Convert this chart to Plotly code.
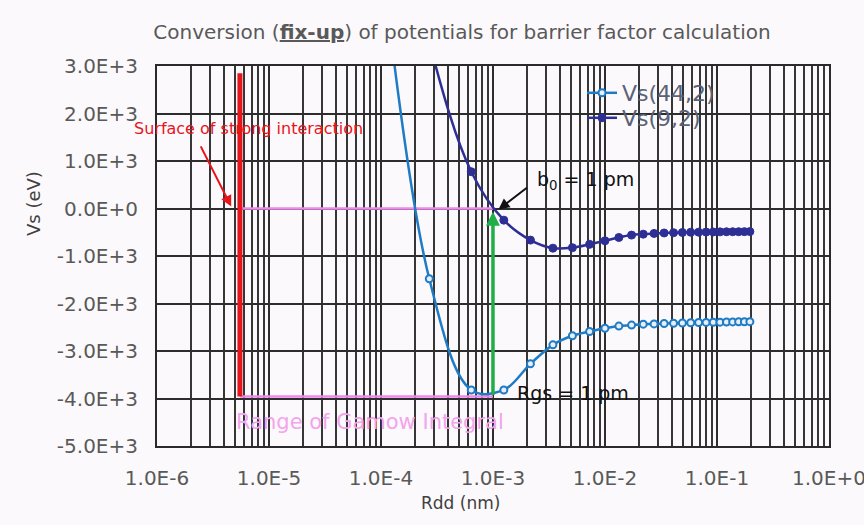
import math
import plotly.graph_objects as go

# ---------------- data ----------------
RDD_NM = [8.0e-5, 2.7e-4, 6.4e-4, 1.25e-3, 2.16e-3, 3.43e-3, 5.12e-3, 7.29e-3,
          1.0e-2, 1.331e-2, 1.728e-2, 2.197e-2, 2.744e-2, 3.375e-2, 4.096e-2,
          4.913e-2, 5.832e-2, 6.859e-2, 8.0e-2, 9.261e-2, 1.0648e-1, 1.2167e-1,
          1.3824e-1, 1.5625e-1, 1.7576e-1, 1.9683e-1]
VS_44_2 = [7500, -1480, -3820, -3820, -3270, -2870, -2680, -2590, -2520, -2475,
           -2455, -2435, -2430, -2420, -2415, -2410, -2405, -2400, -2398, -2395,
           -2393, -2390, -2388, -2386, -2384, -2382]
VS_9_2 = [9500, 3500, 775, -245, -665, -835, -825, -755, -680, -610, -560, -540,
          -525, -515, -510, -505, -500, -498, -496, -494, -492, -490, -489, -488,
          -487, -486]
SERIES_NAMES = ["Vs(44,2)", "Vs(9,2)"]

X_TICKS = [1e-6, 1e-5, 1e-4, 1e-3, 1e-2, 1e-1, 1e0]
X_TICK_LABELS = ["1.0E-6", "1.0E-5", "1.0E-4", "1.0E-3", "1.0E-2", "1.0E-1", "1.0E+0"]
Y_TICKS = [-5000, -4000, -3000, -2000, -1000, 0, 1000, 2000, 3000]
Y_TICK_LABELS = ["-5.0E+3", "-4.0E+3", "-3.0E+3", "-2.0E+3", "-1.0E+3",
                 "0.0E+0", "1.0E+3", "2.0E+3", "3.0E+3"]

# reference markers of the explanation
SURFACE_R = 5.5e-6          # surface of strong interaction (nm)
SURFACE_TOP = 2850
B0_R = 1.0e-3               # b0 = Rgs = 1 pm
V_ZERO = 0
V_MIN = -3960
B0_ARROW_TOP = -70

FONT = "DejaVu Sans"
C44 = "#1e7bc4"
C92 = "#2e2f94"
PINK = "#ee88ea"
GRID = "#2d2d2d"

L, R, T, B = 157, 35, 66, 79
PW, PH = 864 - L - R, 525 - T - B


def px_to_paper(px, py):
    return (px - L) / PW, 1 - (py - T) / PH


fig = go.Figure()

# pink range lines (Gamow integral)
fig.add_trace(go.Scatter(x=[SURFACE_R, B0_R], y=[V_ZERO, V_ZERO], mode="lines",
                         line=dict(color=PINK, width=2.5), showlegend=False, hoverinfo="skip"))
fig.add_trace(go.Scatter(x=[SURFACE_R, B0_R], y=[V_MIN, V_MIN], mode="lines",
                         line=dict(color=PINK, width=2.5), showlegend=False, hoverinfo="skip"))
# red surface line
fig.add_trace(go.Scatter(x=[SURFACE_R, SURFACE_R], y=[V_MIN, SURFACE_TOP], mode="lines",
                         line=dict(color="#e8141c", width=5), showlegend=False, hoverinfo="skip"))

fig.add_trace(go.Scatter(
    x=RDD_NM, y=VS_44_2, name=SERIES_NAMES[0], mode="lines+markers", legend="legend",
    line=dict(color=C44, width=2.5, shape="spline"),
    marker=dict(symbol="circle", size=7, color="#e6eef8", line=dict(color=C44, width=2)),
))
fig.add_trace(go.Scatter(
    x=RDD_NM, y=VS_9_2, name=SERIES_NAMES[1], mode="lines+markers", legend="legend2",
    line=dict(color=C92, width=2.5, shape="spline"),
    marker=dict(symbol="circle", size=8, color=C92, line=dict(color=C92, width=1)),
))

lg = math.log10
xt, yt = px_to_paper(460, 503)
xv, yv = px_to_paper(33, 204)
annotations = [
    # green arrow b0 / Rgs
    dict(x=lg(B0_R), y=B0_ARROW_TOP, ax=lg(B0_R), ay=V_MIN, xref="x", yref="y",
         axref="x", ayref="y", text="", showarrow=True, arrowhead=2, arrowsize=0.8,
         arrowwidth=3.5, arrowcolor="#1fae48"),
    # black arrow from b0 label
    dict(x=lg(1.12e-3), y=-20, ax=lg(2.07e-3), ay=460, xref="x", yref="y",
         axref="x", ayref="y", text="", showarrow=True, arrowhead=2, arrowsize=1.1,
         arrowwidth=2, arrowcolor="#111111"),
    # red arrow from surface label
    dict(x=lg(4.6e-6), y=40, ax=lg(2.42e-6), ay=1340, xref="x", yref="y",
         axref="x", ayref="y", text="", showarrow=True, arrowhead=2, arrowsize=1.1,
         arrowwidth=2, arrowcolor="#e8141c"),
    dict(x=lg(2.37e-3), y=600, xref="x", yref="y", text="b<sub>0</sub> = 1 pm",
         showarrow=False, xanchor="left", yanchor="middle",
         font=dict(family=FONT, size=19, color="#111111")),
    dict(x=lg(1.57e-3), y=-3890, xref="x", yref="y", text="Rgs = 1 pm",
         showarrow=False, xanchor="left", yanchor="middle",
         font=dict(family=FONT, size=19, color="#111111")),
    dict(x=lg(6.5e-6), y=1690, xref="x", yref="y", text="Surface of strong interaction",
         showarrow=False, xanchor="center", yanchor="middle",
         font=dict(family=FONT, size=16, color="#e8141c")),
    dict(x=lg(8.05e-5), y=-4490, xref="x", yref="y", text="Range of Gamow Integral",
         showarrow=False, xanchor="center", yanchor="middle",
         font=dict(family=FONT, size=21, color="#f2a4ec")),
    # axis titles
    dict(x=xt, y=yt, xref="paper", yref="paper", text="Rdd (nm)",
         showarrow=False, xanchor="center", yanchor="middle",
         font=dict(family=FONT, size=17, color="#404040")),
    dict(x=xv, y=yv, xref="paper", yref="paper", text="Vs (eV)",
         showarrow=False, xanchor="center", yanchor="middle", textangle=-90,
         font=dict(family=FONT, size=18, color="#404040")),
]

lx, ly1 = px_to_paper(582, 72)
_, ly2 = px_to_paper(582, 97)
legend_common = dict(xanchor="left", yanchor="top", bgcolor="rgba(0,0,0,0)",
                     font=dict(family=FONT, size=22, color="#5a6275"))

fig.update_layout(
    width=864, height=525,
    margin=dict(l=L, r=R, t=T, b=B, autoexpand=False),
    paper_bgcolor="#fcf9fc", plot_bgcolor="#fcf9fc",
    font=dict(family=FONT, color="#595959"),
    title=dict(text="Conversion (<b><u>fix-up</u></b>) of potentials for barrier factor calculation",
               x=462 / 864, xanchor="center", y=1 - 32 / 525, yanchor="middle",
               font=dict(family=FONT, size=20, color="#595959")),
    legend=dict(x=lx, y=ly1, **legend_common),
    legend2=dict(x=lx, y=ly2, **legend_common),
    annotations=annotations,
    showlegend=True,
)

fig.update_xaxes(
    type="log", range=[-6, 0.0005], tickmode="array", tickvals=X_TICKS, ticktext=X_TICK_LABELS,
    showgrid=True, gridcolor=GRID, gridwidth=1.6,
    minor=dict(dtick="D1", showgrid=True, gridcolor="#363636", gridwidth=1.5, ticks=""),
    showline=True, mirror=True, linecolor="#2a2a2a", linewidth=2,
    ticks="", ticklabelstandoff=13, ticklabeloverflow="allow", automargin=False,
    tickfont=dict(family=FONT, size=20, color="#595959"),
    zeroline=False,
)
fig.update_yaxes(
    range=[-5000, 3000], tickmode="array", tickvals=Y_TICKS, ticktext=Y_TICK_LABELS,
    showgrid=True, gridcolor=GRID, gridwidth=1.6,
    showline=True, mirror=True, linecolor="#2a2a2a", linewidth=2,
    ticks="", ticklabelstandoff=13, automargin=False,
    tickfont=dict(family=FONT, size=20, color="#595959"),
    zeroline=False,
)

fig.write_html("out.html", config={"displayModeBar": False},
               post_script="document.body.style.margin='0';")
